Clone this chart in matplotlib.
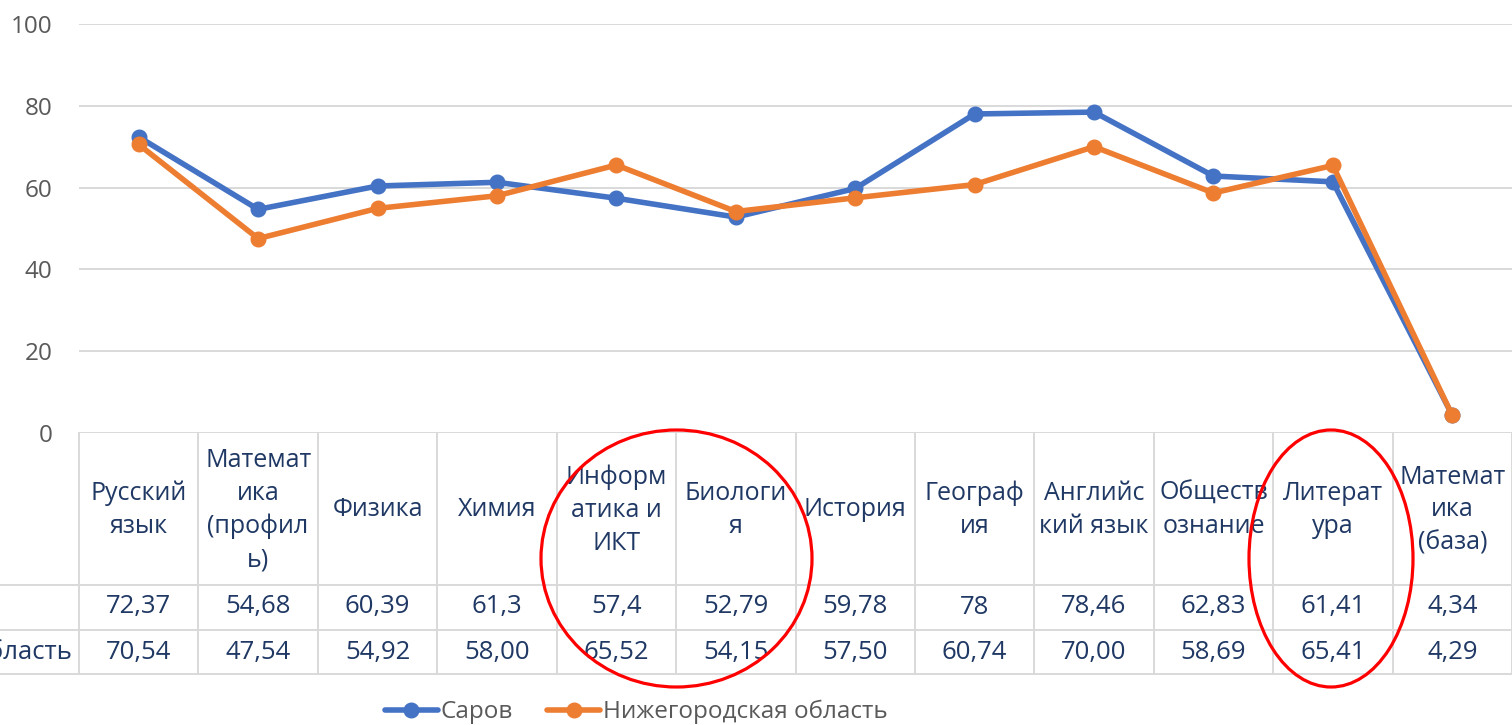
import matplotlib
matplotlib.use('Agg')
import matplotlib.pyplot as plt
from matplotlib.patches import Ellipse
from matplotlib.lines import Line2D

plt.rcParams['font.family'] = ['Open Sans', 'DejaVu Sans']

# ---------------- data ----------------
categories = ["Русский\nязык", "Математ\nика\n(профил\nь)", "Физика", "Химия",
              "Информ\nатика и\nИКТ", "Биологи\nя", "История", "Географ\nия",
              "Английс\nкий язык", "Обществ\nознание", "Литерат\nура",
              "Математ\nика\n(база)"]
series_names = ["Саров", "Нижегородская область"]
sarov_labels = ["72,37", "54,68", "60,39", "61,3", "57,4", "52,79", "59,78",
                "78", "78,46", "62,83", "61,41", "4,34"]
region_labels = ["70,54", "47,54", "54,92", "58,00", "65,52", "54,15", "57,50",
                 "60,74", "70,00", "58,69", "65,41", "4,29"]
sarov = [float(s.replace(',', '.')) for s in sarov_labels]
region = [float(s.replace(',', '.')) for s in region_labels]
y_ticks = [0, 20, 40, 60, 80, 100]

# ---------------- layout ----------------
W, H = 1512, 725
fig = plt.figure(figsize=(W / 100, H / 100), dpi=100)


def fx(px):
    return px / W


def fy(py):
    return 1 - py / H


LEFT, RIGHT, TOP, ZERO, TBOT = 79, 1512, 24, 433, 674
BLUE, ORANGE = '#4472C4', '#ED7D31'
GRID = '#D9D9D9'
TXT = '#1F3864'
GRAY = '#595959'

ax = fig.add_axes([fx(LEFT), fy(ZERO), (RIGHT - LEFT) / W, (ZERO - TOP) / H])
x = list(range(len(categories)))
ax.plot(x, sarov, color=BLUE, lw=4.0, marker='o', ms=10.5, zorder=3,
        solid_capstyle='round', solid_joinstyle='round', label=series_names[0])
ax.plot(x, region, color=ORANGE, lw=4.0, marker='o', ms=10.5, zorder=4,
        solid_capstyle='round', solid_joinstyle='round', label=series_names[1])
ax.set_xlim(-0.5, len(categories) - 0.5)
ax.set_ylim(0, 100)
ax.set_yticks(y_ticks)
ax.set_xticks([])
ax.yaxis.grid(True, color=GRID, lw=1.4)
ax.set_axisbelow(True)
for s in ax.spines.values():
    s.set_visible(False)
ax.tick_params(axis='y', length=0, pad=19, labelsize=17.5, labelcolor=GRAY)

# ---------------- data table ----------------
tax = fig.add_axes([fx(LEFT), fy(TBOT), (RIGHT - LEFT) / W, (TBOT - ZERO) / H])
tax.set_xlim(-0.5, len(categories) - 0.5)
tax.set_ylim(TBOT, ZERO)
tax.axis('off')
colw = (RIGHT - LEFT) / len(categories)
x_left_edge = -0.5 - LEFT / colw

for yy in (585, 630, TBOT):
    tax.add_line(Line2D([x_left_edge, len(categories) - 0.5], [yy, yy],
                        color=GRID, lw=1.4, clip_on=False))
for i in range(len(categories) + 1):
    tax.add_line(Line2D([i - 0.5, i - 0.5], [ZERO, TBOT], color=GRID, lw=1.4,
                        clip_on=False))

for i, c in enumerate(categories):
    tax.text(i, 510, c, ha='center', va='center', fontsize=18, color=TXT,
             linespacing=1.42)
    tax.text(i, 607, sarov_labels[i], ha='center', va='center', fontsize=18.5,
             color=TXT)
    tax.text(i, 652, region_labels[i], ha='center', va='center', fontsize=18.5,
             color=TXT)

tax.text(-0.5 - 7 / colw, 652, series_names[1], ha='right', va='center',
         fontsize=18.5, color=TXT, clip_on=False)

# ---------------- legend ----------------
handles, labels = ax.get_legend_handles_labels()
fig.legend(handles, labels, loc='center', bbox_to_anchor=(fx(636), fy(712)),
           ncol=2, frameon=False, fontsize=17.5, handlelength=2.2,
           handletextpad=0.1, columnspacing=1.4, labelcolor=GRAY,
           borderaxespad=0, borderpad=0)

# ---------------- red ellipses ----------------
for cx, cy, w, h in [(676.5, 558.5, 271, 257), (1331, 558.5, 164, 257)]:
    fig.add_artist(Ellipse((fx(cx), fy(cy)), w / W, h / H,
                           transform=fig.transFigure, fill=False,
                           edgecolor='#FF0000', lw=2.3, zorder=10))

fig.savefig('out.png', dpi=100)
